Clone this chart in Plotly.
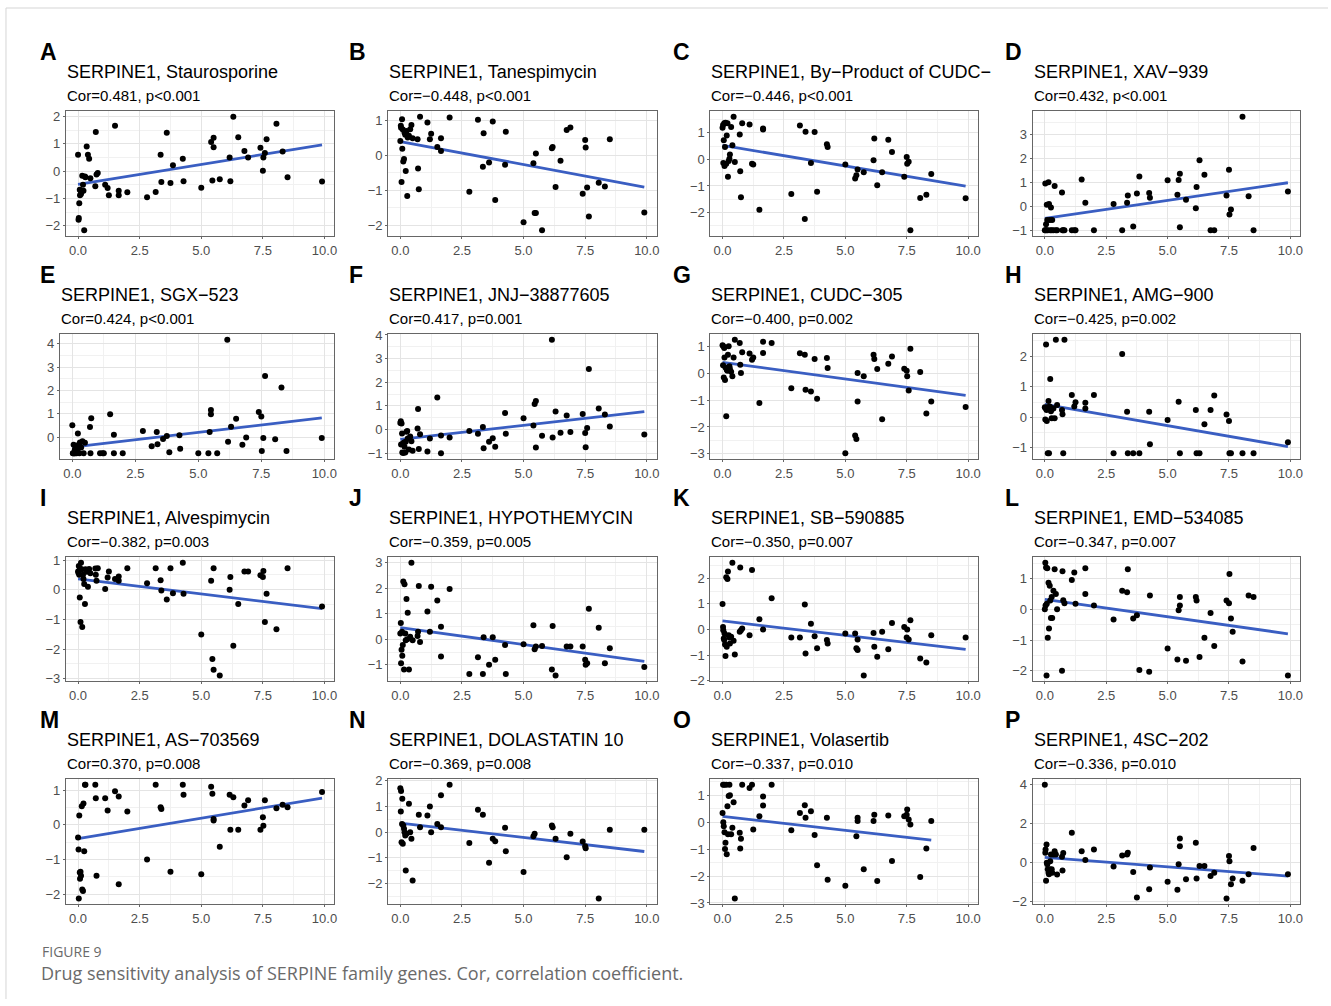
import numpy as np
import plotly.graph_objects as go

W, H = 1331, 1006
N = None

# shared x values (SERPINE1 expression)
x_expr = [0.0, 0.02, 0.03, 0.05, 0.07, 0.08, 0.1, 0.12, 0.15, 0.17, 0.2, 0.22, 0.25, 0.28, 0.3, 0.35, 0.4, 0.45, 0.5,
          0.7, 0.72, 0.75, 0.8, 1.1, 1.2, 1.25, 1.5, 1.65, 1.65, 2.0,
          2.8, 3.15, 3.35, 3.38, 3.6, 3.75, 3.85, 4.25, 4.28,
          5.0, 5.4, 5.45, 5.5, 5.5, 5.75, 6.15, 6.18, 6.3, 6.5, 6.75, 6.9, 7.4, 7.5, 7.52, 7.58, 7.65, 8.05, 8.3, 8.5, 9.9]

panel_letters = list("ABCDEFGHIJKLMNOP")
drugs = ["Staurosporine", "Tanespimycin", "By\u2212Product of CUDC\u2212", "XAV\u2212939",
         "SGX\u2212523", "JNJ\u221238877605", "CUDC\u2212305", "AMG\u2212900",
         "Alvespimycin", "HYPOTHEMYCIN", "SB\u2212590885", "EMD\u2212534085",
         "AS\u2212703569", "DOLASTATIN 10", "Volasertib", "4SC\u2212202"]
cor_labels = ["Cor=0.481, p<0.001", "Cor=\u22120.448, p<0.001", "Cor=\u22120.446, p<0.001", "Cor=0.432, p<0.001",
              "Cor=0.424, p<0.001", "Cor=0.417, p=0.001", "Cor=\u22120.400, p=0.002", "Cor=\u22120.425, p=0.002",
              "Cor=\u22120.382, p=0.003", "Cor=\u22120.359, p=0.005", "Cor=\u22120.350, p=0.007", "Cor=\u22120.347, p=0.007",
              "Cor=0.370, p=0.008", "Cor=\u22120.369, p=0.008", "Cor=\u22120.337, p=0.010", "Cor=\u22120.336, p=0.010"]

yA = [0.6,-1.78,-1.72,-1.18,-0.68,-0.89,-0.7,-0.84,-0.75,-0.17,-0.5,-0.72,-2.17,-0.2,-0.23,0.9,0.6,0.45,-0.26,
      -0.56,1.43,-0.13,-0.07, -0.5,-0.62,-0.89, 1.66,-0.72,-0.89,-0.78,
      -0.96,-0.77,0.6,-0.4,1.4,-0.44,0.21,0.45,-0.37,
      -0.61,1.06,-0.35,1.22,0.87,-0.3,0.5,-0.37,1.99,1.24,0.73,0.5,0.85,0.01,0.5,0.66,1.16,1.73,0.72,-0.23,-0.38]
yB = [0.42,0.86,0.8,-0.76,1.05,0.2,0.75,-0.17,-0.1,0.66,0.6,-0.44,0.71,-1.16,0.52,0.57,0.76,0.88,0.5,
      0.47,-0.37,-0.97,1.12, 0.95,0.47,0.63, 0.25,0.13,0.5,1.1,
      -1.04,1.03,-0.32,0.64,-0.2,0.98,-1.28,-0.26,0.69,
      -1.92,-0.22,-1.65,0.06,-1.65,-2.15,0.21,0.25,-0.9,-0.15,0.74,0.81,-1.1,0.45,0.23,-0.92,-1.75,-0.78,-0.89,0.47,-1.64]
yC = [1.19,1.3,-0.13,0.72,1.36,-0.25,0.47,1.38,-0.16,0.9,1.36,-0.65,-0.06,0.03,0.19,1.22,0.53,1.61,-0.1,
      0.94,-0.44,-1.42,1.36, 1.32,-0.16,-0.19, -1.89,1.17,1.13,N,
      -1.3,1.28,-2.24,1.04,-0.13,1.03,-1.22,0.57,0.47,
      -0.19,-0.72,-0.6,-0.38,N,-0.48,-0.03,0.79,-0.97,-0.48,0.74,0.28,-0.65,0.09,-0.16,-0.09,-2.67,-1.45,-1.33,-0.55,-1.46]
yD = [-1,0.95,-1,-0.75,-1,0.06,-0.57,-1,1.0,0.1,-0.57,-1,-0.05,-1,-0.57,-1,0.85,-1,-1,
      0.57,-1,-1,-1, -1,-1,-1, 1.12,0.15,N,-1,
      0.1,-1,0.15,0.45,-0.84,0.53,1.24,0.55,0.36,
      1.08,0.48,1.1,1.36,-0.87,0.27,-0.08,0.8,1.92,1.31,-1,-1,0.45,1.52,-0.34,-0.13,N,3.73,0.42,-1,0.62]
yE = [0.5,-0.7,-0.7,-0.33,-0.7,-0.7,-0.54,-0.7,-0.5,-0.7,-0.6,0.15,-0.33,-0.7,-0.23,-0.45,-0.18,-0.7,-0.25,
      0.43,-0.7,0.8,N, -0.7,-0.7,-0.7, 0.98,0.1,-0.7,-0.7,
      0.26,-0.4,0.21,-0.31,-0.09,0.04,-0.65,0.08,-0.5,
      -0.7,-0.7,0.21,0.98,1.16,-0.7,4.17,-0.2,0.44,0.78,-0.33,-0.02,1.07,0.88,-0.6,-0.04,2.61,-0.1,2.12,-0.6,-0.04]
yF = [0.28,0.35,-0.63,0.25,-0.17,-0.97,-0.59,-1.0,-0.55,-0.73,-0.97,-0.52,-0.1,-0.06,-0.38,-0.85,-0.3,-0.5,-0.9,
      0.04,0.87,-0.83,-0.2, -0.93,-0.38,N, 1.35,-0.25,-1.01,-0.34,
      -0.06,-0.18,0.11,-0.79,-0.52,-0.37,-0.73,0.7,-0.18,
      0.48,0.17,1.08,1.21,-0.76,-0.27,3.8,-0.34,0.76,-0.14,0.59,-0.11,0.66,-0.15,-0.75,0.06,2.56,0.89,0.63,0.13,-0.21]
yG = [1.03,0.29,1.0,-0.16,0.93,0.58,-0.26,0.21,-1.6,0.12,0.09,0.68,1.0,0.25,0.15,0.05,-0.12,0.58,1.24,
      1.12,0.31,0.0,0.77, 0.73,0.5,0.58, -1.11,1.16,0.75,1.12,
      -0.56,0.74,0.68,-0.62,-0.68,0.52,-0.95,0.56,0.19,
      -2.98,-2.32,-2.45,0.0,-1.05,-0.12,0.68,0.52,0.15,-1.71,0.35,0.62,0.16,0.09,-0.12,-0.65,0.9,0.04,-1.5,-1.05,-1.26]
yH = [0.33,-0.07,0.3,2.38,0.24,-0.12,0.33,-1.18,0.53,-1.18,0.35,1.25,0.2,-0.03,0.3,0.29,-0.03,2.54,0.4,
      0.24,0.1,-1.18,2.54, 0.73,0.35,0.49, N,0.48,0.29,0.73,
      -1.18,2.07,0.18,-1.18,-1.18,N,-1.18,0.18,-0.88,
      -0.09,N,0.51,-1.18,N,N,0.24,-1.18,-1.18,-0.23,0.24,0.71,0.09,-0.12,-1.18,-1.18,N,-1.18,N,-1.18,-0.82]
yI = [0.61,0.56,0.8,0.5,-0.26,0.71,-1.09,0.91,0.69,-1.26,0.5,0.36,0.19,-0.48,0.69,0.6,0.1,0.7,0.55,
      0.71,0.5,0.3,0.72, 0.02,0.41,0.61, 0.36,0.44,0.3,0.72,
      0.22,0.72,0.32,-0.03,-0.33,0.72,-0.12,0.91,-0.14,
      -1.51,0.3,-2.34,0.72,-2.7,-2.89,0.0,0.43,-1.89,-0.48,0.61,0.61,0.49,0.43,0.63,-1.09,-0.14,-1.33,N,0.72,-0.57]
yJ = [0.23,0.64,-0.93,-0.41,0.3,-0.64,-0.22,2.26,-1.18,2.16,0.23,-0.03,1.58,0,1.04,-1.18,0.1,3.0,-0.03,
      0.13,0.3,2.09,-0.1, 1.09,0.3,2.06, 1.52,0.49,-0.67,1.97,
      -1.35,-0.7,-1.35,0.08,-0.99,0.08,-0.8,-0.22,-1.35,
      -0.19,0.55,-0.39,-0.28,N,-0.26,-1.18,0.52,-1.41,N,-0.28,-0.28,-0.28,-0.8,-0.99,-0.93,1.2,0.45,-0.93,-0.35,-1.08]
yK = [1.0,0.1,-0.03,-0.35,-0.41,-0.15,-0.58,-1.03,2.04,-0.67,1.97,2.27,-0.22,-0.31,-0.54,-0.28,2.61,-0.44,-0.97,
      -0.09,2.42,-0.03,0.04, -0.22,2.32,N, 0.4,0.0,N,1.22,
      -0.31,-0.31,0.98,-0.93,0.23,-0.26,-0.73,-0.41,-0.54,
      -0.15,-0.15,-0.73,-0.8,-0.39,-1.79,-0.13,-0.67,-1.06,-0.09,-0.77,0.26,0.1,-0.31,0.0,-0.39,0.36,-1.13,-1.29,-0.22,-0.31]
yL = [0,1.52,0.13,1.36,-2.15,0.18,1.34,-0.92,0.87,-0.62,0.77,0.29,-0.28,0.4,-0.28,0.61,1.31,0.5,0.0,
      -2.0,1.24,0.3,0.2, 0.96,1.2,0.18, N,0.5,1.34,0.13,
      -0.33,0.61,0.56,1.31,-0.3,-0.19,-1.97,-2.03,0.45,
      -1.27,-1.63,-0.03,0.13,0.4,-1.67,0.4,0.29,-1.55,-0.92,-0.12,-1.19,0.29,0.2,1.15,-0.3,-0.73,-1.7,0.45,0.4,-2.15]
yM = [-0.36,-0.71,-2.12,0.27,-1.37,-1.55,-1.35,-1.47,0.54,-1.86,-1.91,0.62,-0.76,1.16,1.16,N,N,N,N,
      1.16,0.77,-1.47,N, 0.77,0.42,N, 0.97,0.82,-1.71,0.39,
      -1.0,1.16,0.51,0.46,N,-1.35,N,1.16,0.87,
      -1.42,1.1,0.9,0.17,0.13,-0.63,0.87,-0.14,0.8,-0.14,0.56,0.71,-0.14,0.22,-0.02,0.71,N,0.48,0.58,0.51,0.95]
yN = [1.7,0.8,1.6,-0.39,0.32,1.3,-0.45,0.26,0.13,0,-0.13,-1.49,-0.06,N,N,1.1,0,-0.26,-1.88,
      N,N,0.68,0.19, 0.65,1.0,0, 0.32,1.43,0.19,1.84,
      -0.42,0.87,0.68,N,-1.19,-0.26,-0.35,0.17,-0.74,
      -1.55,-0.16,-0.06,N,N,N,0.26,0.19,-0.26,N,-0.97,-0.06,-0.36,-0.55,-0.62,N,N,-2.57,N,0.09,0.09]
yO = [0.34,1.39,0,-0.15,1.39,-0.37,-1.0,-0.76,1.39,-1.19,0.59,-0.45,0.97,1.39,1.0,-0.45,-0.21,0.74,-2.83,
      -0.39,-0.98,-0.62,1.39, 1.27,1.39,-0.27, 0.22,0.95,0.62,1.39,
      -0.3,0.34,0.63,0.16,0.41,-0.48,-1.6,0.16,-2.14,
      -2.36,N,-0.52,0.16,0.04,-1.75,0.04,0.28,-2.18,N,0.25,-1.44,0.22,0.28,0.47,0.1,-0.09,-2.04,-0.98,0.04,N]
yP = [4.0,0.51,0.68,-0.93,0.93,0,-0.08,-0.34,-0.51,-0.59,-0.34,0.08,0.42,-0.34,-0.51,0.42,0.59,0.42,-0.6,
      0.3,-0.4,0.5,N, 1.54,N,N, 0.59,0.14,N,0.68,
      -0.2,0.37,0.42,0.51,-0.47,-1.78,N,-1.36,-0.25,
      -0.98,-1.39,-0.08,1.24,0.85,-0.85,1.02,-0.81,-0.17,-0.17,-0.68,-0.51,-1.83,0.34,0.08,-1.1,-0.81,-0.93,-0.59,0.76,-0.59]

y_series = [yA, yB, yC, yD, yE, yF, yG, yH, yI, yJ, yK, yL, yM, yN, yO, yP]
y_dtick = [1, 1, 1, 1, 1, 1, 1, 1, 1, 1, 1, 1, 1, 1, 1, 2]

# layout geometry (target page pixels)
col_left = [65, 388, 711, 1034]
col_right = [334, 657, 979, 1302]
row_top = [111, 334, 557, 779]
row_bot = [236, 459, 681, 904]
letter_x = [37, 347, 672, 1004]


def py(y_px):
    """target vertical pixel -> paper fraction (compensating observed render offset)"""
    return 1 - ((y_px - 6) / 0.987) / H


def px(x_px):
    return (x_px + 1) / W


LINE_BLUE = "#3A5EC2"
FONT = "Liberation Sans, Arial, sans-serif"

fig = go.Figure()
X = np.array(x_expr, dtype=float)
xr = [X.min() - 0.05 * (X.max() - X.min()), X.max() + 0.05 * (X.max() - X.min())]

annotations = []
for i, ys in enumerate(y_series):
    Y = np.array([np.nan if v is None else v for v in ys], dtype=float)
    if len(Y) != len(X):
        raise ValueError(f"panel {i} has {len(Y)} values")
    m = ~np.isnan(Y)
    xs, yv = X[m], Y[m]
    r, c = divmod(i, 4)
    left = col_left[c] if i != 4 else 59
    right = col_right[c]
    top, bot = row_top[r], row_bot[r]
    ax = "" if i == 0 else str(i + 1)
    slope, icpt = np.polyfit(xs, yv, 1)
    lx = np.array([xs.min(), xs.max()])
    fig.add_trace(go.Scatter(x=lx, y=icpt + slope * lx, mode="lines",
                             line=dict(color=LINE_BLUE, width=2.8),
                             xaxis="x" + ax, yaxis="y" + ax, showlegend=False, hoverinfo="skip"))
    fig.add_trace(go.Scatter(x=xs, y=yv, mode="markers",
                             marker=dict(color="black", size=6),
                             xaxis="x" + ax, yaxis="y" + ax, showlegend=False))
    yr0, yr1 = yv.min(), yv.max()
    pad = 0.05 * (yr1 - yr0)
    d = y_dtick[i]
    common = dict(showline=True, mirror=True, linecolor="#666666", linewidth=1,
                  gridcolor="#E4E4E4", gridwidth=1, zeroline=False,
                  ticks="outside", ticklen=2, tickcolor="#666666",
                  tickfont=dict(family=FONT, size=13, color="#4D4D4D"))
    fig.layout["xaxis" + ax] = dict(domain=[px(left), px(right)], anchor="y" + ax,
                                    range=xr, tickmode="linear", tick0=0, dtick=2.5, tickformat=".1f",
                                    minor=dict(tick0=0, dtick=1.25, showgrid=True, gridcolor="#F1F1F1", ticks=""),
                                    **common)
    fig.layout["yaxis" + ax] = dict(domain=[py(bot), py(top)], anchor="x" + ax,
                                    range=[yr0 - pad, yr1 + pad], tickmode="linear", tick0=0, dtick=d,
                                    minor=dict(tick0=0, dtick=d / 2, showgrid=True, gridcolor="#F1F1F1", ticks=""),
                                    **common)
    annotations.append(dict(x=px(letter_x[c]), y=py(top - 59), xref="paper", yref="paper",
                            xanchor="left", yanchor="middle", showarrow=False,
                            text="<b>" + panel_letters[i] + "</b>",
                            font=dict(family=FONT, size=23, color="black")))
    annotations.append(dict(x=px(left - 1), y=py(top - 39), xref="paper", yref="paper",
                            xanchor="left", yanchor="middle", showarrow=False,
                            text="SERPINE1, " + drugs[i],
                            font=dict(family=FONT, size=18, color="black")))
    annotations.append(dict(x=px(left - 1), y=py(top - 16), xref="paper", yref="paper",
                            xanchor="left", yanchor="middle", showarrow=False,
                            text=cor_labels[i],
                            font=dict(family=FONT, size=15, color="black")))

annotations.append(dict(x=px(39), y=py(951), xref="paper", yref="paper", xanchor="left", yanchor="middle",
                        showarrow=False, text="FIGURE 9",
                        font=dict(family="Open Sans, sans-serif", size=14, color="#6A6A6A")))
annotations.append(dict(x=px(38), y=py(973), xref="paper", yref="paper", xanchor="left", yanchor="middle",
                        showarrow=False,
                        text="Drug sensitivity analysis of SERPINE family genes. Cor, correlation coefficient.",
                        font=dict(family="Open Sans, sans-serif", size=18, color="#6A6A6A")))

shapes = [
    dict(type="line", xref="paper", yref="paper", x0=px(5), x1=1, y0=py(8), y1=py(8),
         line=dict(color="#D5D5D5", width=1)),
    dict(type="line", xref="paper", yref="paper", x0=px(5), x1=px(5), y0=0, y1=py(8),
         line=dict(color="#D5D5D5", width=1)),
]

fig.update_layout(width=W, height=H, margin=dict(l=0, r=0, t=0, b=0),
                  paper_bgcolor="white", plot_bgcolor="white",
                  annotations=annotations, shapes=shapes, showlegend=False)
fig.write_html("out.html")
